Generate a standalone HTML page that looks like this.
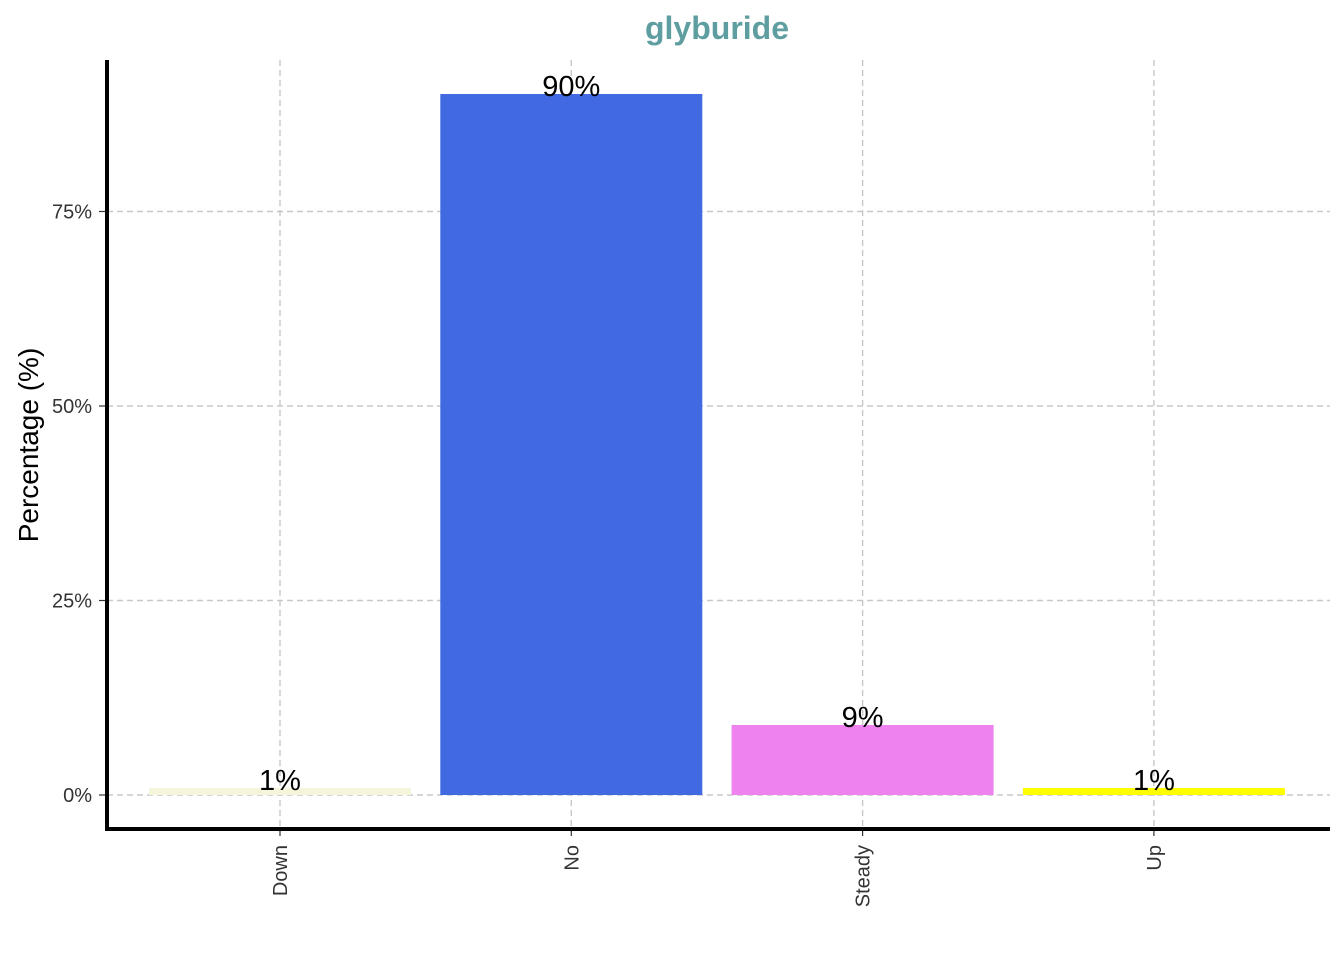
<!DOCTYPE html>
<html><head><meta charset="utf-8"><style>
body{margin:0;background:#fff;}
svg{display:block;font-family:"Liberation Sans",Arial,sans-serif;}
</style></head><body>
<svg id="chart" width="1344" height="960"></svg>
<script>
const categories=["Down","No","Steady","Up"];
const values=[0.9,90.1,9.0,0.9];
const labels=["1%","90%","9%","1%"];
const colors=["#f5f5dc","#4169e1","#ee82ee","#ffff00"];
const yTicks=[0,25,50,75];
const yTickLabels=["0%","25%","50%","75%"];

const NS="http://www.w3.org/2000/svg";
const svg=document.getElementById('chart');
const x0=107,x1=1330,y0=795,pxPer=194.5/25;
const step=291.3,firstC=280,barW=262;
const xS=i=>firstC+i*step;
const yS=v=>y0-v*pxPer;
function mk(t,a,p){const e=document.createElementNS(NS,t);for(const k in a)e.setAttribute(k,a[k]);(p||svg).appendChild(e);return e;}

const grid=mk('g',{});


yTicks.forEach(v=>{mk('line',{x1:x0,x2:x1,y1:yS(v),y2:yS(v),stroke:'#c8c8c8','stroke-width':1.4,'stroke-dasharray':'6,4'},grid);});
categories.forEach((c,i)=>{mk('line',{x1:xS(i),x2:xS(i),y1:60,y2:829,stroke:'#c8c8c8','stroke-width':1.4,'stroke-dasharray':'6,4'},grid);});

categories.forEach((c,i)=>{
  const r=mk('rect',{x:xS(i)-barW/2,y:yS(values[i]),width:barW,height:yS(0)-yS(values[i]),fill:colors[i]});
  
  
  const t=mk('text',{x:xS(i),y:yS(values[i])+2,'text-anchor':'middle','font-size':29,fill:'#000'});
  t.textContent=labels[i];
  
  
  const xl=mk('text',{transform:`translate(${xS(i)+7},845) rotate(-90)`,'text-anchor':'end','font-size':20,fill:'#333'});
  xl.textContent=c;
  
  
  mk('line',{x1:xS(i),x2:xS(i),y1:829,y2:836,stroke:'#333','stroke-width':1.2});
});

yTicks.forEach((v,i)=>{
  const t=mk('text',{x:92,y:yS(v)+7,'text-anchor':'end','font-size':20,fill:'#333'});
  t.textContent=yTickLabels[i];
  
  
  mk('line',{x1:99,x2:107,y1:yS(v),y2:yS(v),stroke:'#333','stroke-width':1.2});
});

const ax=mk('path',{d:`M${x0} 60 V${829} H${x1}`,fill:'none',stroke:'#000','stroke-width':4});



const yt=mk('text',{transform:'translate(38,445) rotate(-90)','text-anchor':'middle','font-size':28,fill:'#000'});
yt.textContent='Percentage (%)';



const ti=mk('text',{x:717,y:39,'text-anchor':'middle','font-size':32,'font-weight':'bold',fill:'#5f9ea0'});
ti.textContent='glyburide';


</script>
</body></html>
